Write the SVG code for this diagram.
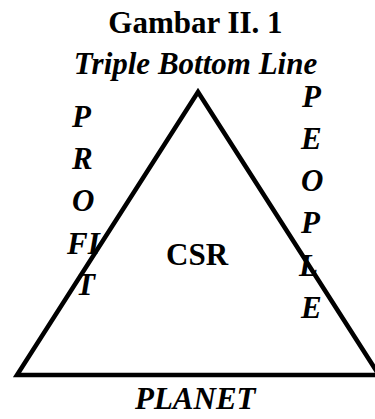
<svg xmlns="http://www.w3.org/2000/svg" width="375" height="419" viewBox="0 0 375 419">
<style>
.t{font-family:"Liberation Serif","Times New Roman",serif;font-size:31px;font-weight:bold;fill:#000}
.i{font-style:italic}
</style>
<rect width="375" height="419" fill="#fff"/>
<g id="title">
<text class="t" x="195.5" y="33" text-anchor="middle">Gambar II. 1</text>
<text class="t i" x="195.5" y="74" text-anchor="middle">Triple Bottom Line</text>
</g>
<g id="triangle">
<polygon points="198,92 17,375 379,375" fill="none" stroke="#000" stroke-width="4.5" stroke-linejoin="miter"/>
</g>
<g id="csr">
<text class="t" x="166" y="265">CSR</text>
</g>
<g id="profit">
<text class="t i" x="72" y="127">P</text>
<text class="t i" x="72" y="169">R</text>
<text class="t i" x="72" y="211">O</text>
<text class="t i" x="67" y="254">FI</text>
<text class="t i" x="76" y="295">T</text>
</g>
<g id="people">
<text class="t i" x="302" y="107">P</text>
<text class="t i" x="301" y="149">E</text>
<text class="t i" x="301" y="191">O</text>
<text class="t i" x="301" y="233">P</text>
<text class="t i" x="299" y="276">L</text>
<text class="t i" x="301" y="318">E</text>
</g>
<g id="planet">
<text class="t i" x="135" y="409">PLANET</text>
</g>
</svg>
